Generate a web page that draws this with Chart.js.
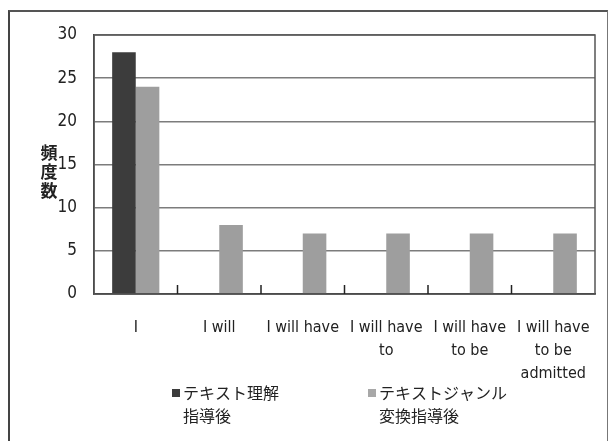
<!DOCTYPE html>
<html>
<head>
<meta charset="utf-8">
<script src="https://cdn.jsdelivr.net/npm/chart.js@4"></script>
<style>
  html, body { margin: 0; padding: 0; background: #fff; }
  #wrap { position: relative; width: 609px; height: 441px; }
  #frame { position: absolute; left: 8px; top: 10px; width: 597px; height: 440px;
           border-left: 2px solid #444; border-top: 2px solid #555; border-right: 1px solid #777; }
  canvas { position: absolute; left: 0; top: 0; }
</style>
</head>
<body>
<div id="wrap">
  <div id="frame"></div>
  <canvas id="chart" width="609" height="441"></canvas>
</div>
<script>
// カテゴリと頻度
const categories = [
  ['I'],
  ['I will'],
  ['I will have'],
  ['I will have', 'to'],
  ['I will have', 'to be'],
  ['I will have', 'to be', 'admitted']
];
const seriesNames = [['テキスト理解', '指導後'], ['テキストジャンル', '変換指導後']];
const textUnderstanding = [28, 0, 0, 0, 0, 0];
const genreConversion = [24, 8, 7, 7, 7, 7];
const yTicks = [0, 5, 10, 15, 20, 25, 30];
const yTitle = ['頻', '度', '数'];

const barColors = ['#3c3c3c', '#9e9e9e'];
const narrow = '"Liberation Sans Narrow", "DejaVu Sans Condensed", "Liberation Sans", sans-serif';
const jp = '"Noto Sans CJK JP", "Noto Sans", sans-serif';

// 枠線・軸見出し・凡例を描く
const extras = {
  id: 'extras',
  afterDraw(chart) {
    const ctx = chart.ctx;
    const a = chart.chartArea;
    const x = chart.scales.x;
    ctx.save();
    // plot border
    ctx.strokeStyle = '#555';
    ctx.lineWidth = 1.5;
    ctx.strokeRect(a.left, a.top, a.right - a.left, a.bottom - a.top);
    // small tick marks between categories
    ctx.strokeStyle = '#222';
    ctx.lineWidth = 1.5;
    for (let i = 0; i < categories.length - 1; i++) {
      const px = (x.getPixelForValue(i) + x.getPixelForValue(i + 1)) / 2;
      ctx.beginPath();
      ctx.moveTo(px, a.bottom);
      ctx.lineTo(px, a.bottom - 9);
      ctx.stroke();
    }
    // y title, stacked characters
    ctx.fillStyle = '#222';
    ctx.font = 'bold 17px ' + jp;
    ctx.textAlign = 'center';
    ctx.textBaseline = 'middle';
    yTitle.forEach((c, i) => ctx.fillText(c, 49, 153 + i * 19));
    // legend
    const items = [{ x: 172, color: barColors[0] }, { x: 368, color: '#a8a8a8' }];
    ctx.font = '16px ' + jp;
    ctx.textAlign = 'left';
    items.forEach((it, i) => {
      ctx.fillStyle = it.color;
      ctx.fillRect(it.x, 389, 8, 8);
      ctx.fillStyle = '#222';
      ctx.fillText(seriesNames[i][0], it.x + 11, 393);
      ctx.fillText(seriesNames[i][1], it.x + 11, 416);
    });
    ctx.restore();
  }
};

new Chart(document.getElementById('chart'), {
  type: 'bar',
  data: {
    labels: categories,
    datasets: [
      { label: seriesNames[0].join(''), data: textUnderstanding, backgroundColor: barColors[0] },
      { label: seriesNames[1].join(''), data: genreConversion, backgroundColor: barColors[1] }
    ]
  },
  options: {
    responsive: false,
    animation: false,
    layout: { padding: { top: 35, right: 14, bottom: 0, left: 0 } },
    datasets: { bar: { categoryPercentage: 0.565, barPercentage: 1.0 } },
    plugins: { legend: { display: false }, tooltip: { enabled: false } },
    scales: {
      x: {
        afterFit: s => { s.height = 147; },
        grid: { display: false },
        border: { color: '#333', width: 1.5 },
        ticks: { color: '#222', font: { family: narrow, size: 16, lineHeight: 1.45 }, padding: 14, maxRotation: 0, autoSkip: false }
      },
      y: {
        min: 0,
        max: 30,
        afterFit: s => { s.width = 94; },
        afterBuildTicks: s => { s.ticks = yTicks.map(v => ({ value: v })); },
        grid: { color: '#7c7c7c', lineWidth: 1.5, tickLength: 0 },
        border: { color: '#333', width: 1.5 },
        ticks: { color: '#222', font: { family: narrow, size: 17 }, padding: 17 }
      }
    }
  },
  plugins: [extras]
});
</script>
</body>
</html>
